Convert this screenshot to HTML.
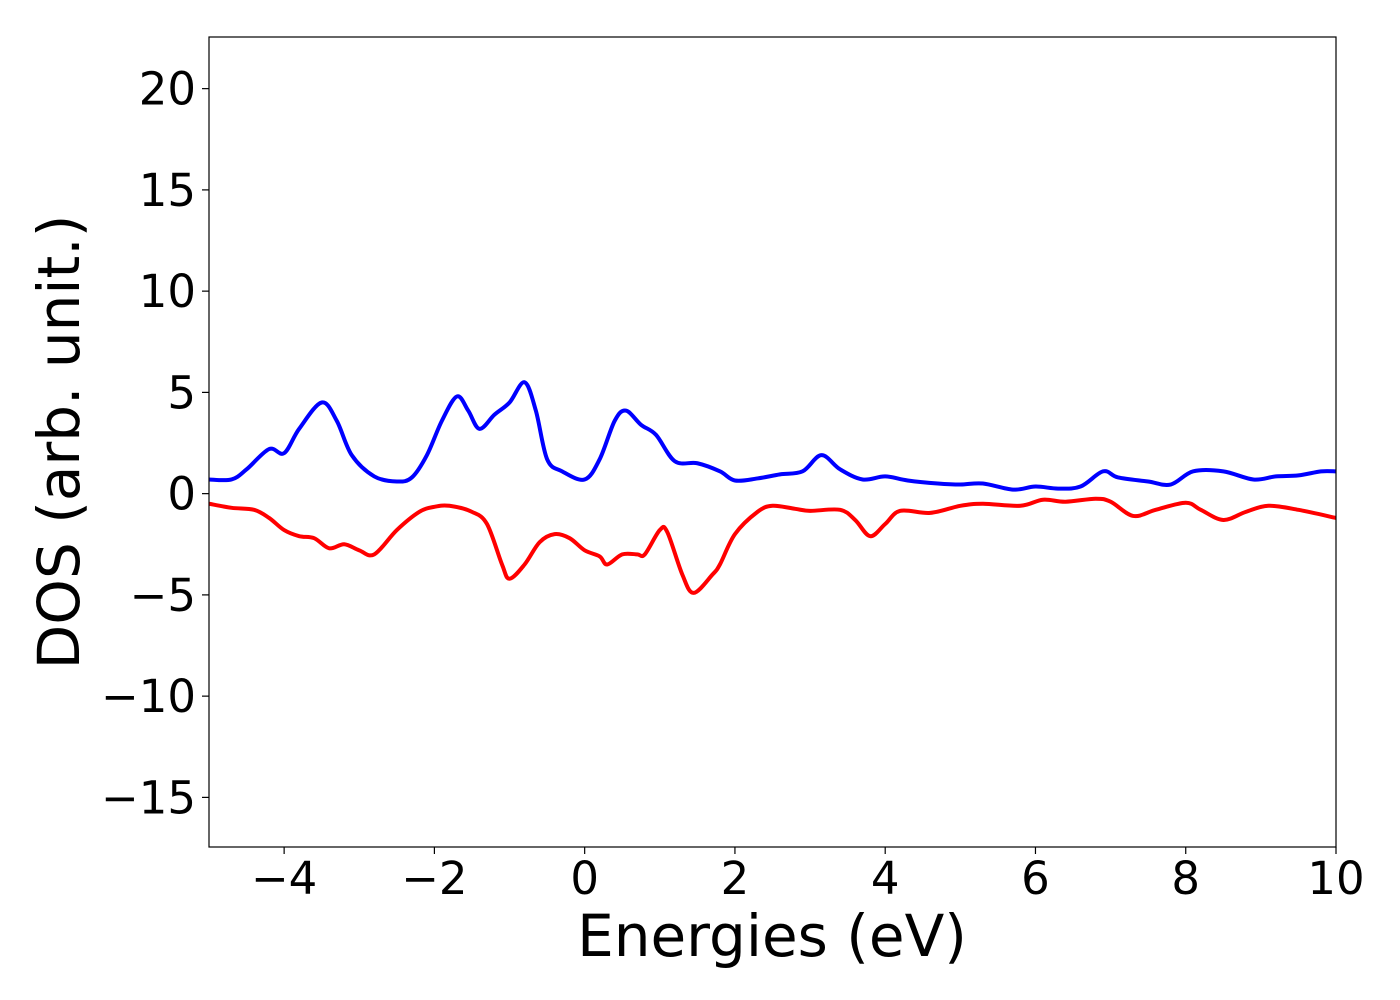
<!DOCTYPE html>
<html><head><meta charset="utf-8"><style>
html,body{margin:0;padding:0;background:#fff;}
svg{display:block;font-family:"DejaVu Sans","Liberation Sans",sans-serif;}
</style></head><body>
<svg id="chart" width="1400" height="1000">
<rect x="0" y="0" width="1400" height="1000" fill="#fff"/>
<g id="ticks"></g>
<g id="series"></g>
<rect x="209" y="37" width="1127" height="810" fill="none" stroke="#000" stroke-width="1.2"/>
<text x="772" y="956" font-size="58" text-anchor="middle">Energies (eV)</text>
<text transform="translate(79,442) rotate(-90)" font-size="58" text-anchor="middle">DOS (arb. unit.)</text>
</svg>
<script>
const xTicks=[-4,-2,0,2,4,6,8,10];
const yTicks=[-15,-10,-5,0,5,10,15,20];
const upE=[-5,-4.7,-4.5,-4.2,-4.0,-3.8,-3.5,-3.3,-3.1,-2.8,-2.5,-2.3,-2.1,-1.9,-1.7,-1.55,-1.4,-1.2,-1.0,-0.8,-0.65,-0.5,-0.3,0,0.2,0.4,0.55,0.75,0.95,1.2,1.5,1.8,2.0,2.3,2.6,2.9,3.15,3.4,3.7,4.0,4.3,4.7,5.0,5.3,5.7,6.0,6.3,6.6,6.9,7.1,7.5,7.8,8.1,8.5,8.9,9.2,9.5,9.8,10];
const upDos=[0.7,0.7,1.2,2.2,2.0,3.2,4.5,3.6,1.9,0.85,0.6,0.8,1.9,3.6,4.8,4.1,3.2,3.9,4.5,5.5,4.1,1.7,1.1,0.7,1.7,3.6,4.1,3.4,2.9,1.6,1.5,1.1,0.65,0.75,0.95,1.1,1.9,1.2,0.7,0.85,0.65,0.5,0.45,0.5,0.2,0.35,0.25,0.35,1.1,0.8,0.6,0.45,1.1,1.1,0.7,0.85,0.9,1.1,1.1];
const dnE=[-5,-4.7,-4.4,-4.2,-4.0,-3.8,-3.6,-3.4,-3.2,-3.0,-2.8,-2.5,-2.2,-2.0,-1.8,-1.5,-1.3,-1.1,-1.0,-0.8,-0.6,-0.4,-0.2,0.0,0.2,0.3,0.5,0.7,0.8,1.0,1.1,1.3,1.45,1.7,1.8,2.0,2.3,2.5,2.8,3.0,3.4,3.6,3.8,4.0,4.2,4.6,5.0,5.3,5.8,6.1,6.4,6.8,7.0,7.3,7.6,8.0,8.2,8.5,8.8,9.1,9.5,10];
const dnDos=[-0.5,-0.7,-0.8,-1.2,-1.8,-2.1,-2.2,-2.7,-2.5,-2.8,-3.0,-1.8,-0.9,-0.65,-0.6,-0.9,-1.5,-3.5,-4.2,-3.5,-2.4,-2.0,-2.2,-2.8,-3.1,-3.5,-3.0,-3.0,-3.0,-1.8,-1.9,-4.0,-4.9,-4.0,-3.5,-2.0,-0.9,-0.6,-0.75,-0.85,-0.8,-1.3,-2.1,-1.5,-0.85,-0.95,-0.6,-0.5,-0.6,-0.3,-0.4,-0.25,-0.4,-1.1,-0.8,-0.45,-0.8,-1.3,-0.9,-0.6,-0.8,-1.2];
const X0=209,X1=1336,Y0=847,Y1=37,xmin=-5,xmax=10,ymin=-17.45,ymax=22.55;
function sx(v){return X0+(v-xmin)/(xmax-xmin)*(X1-X0);}
function sy(v){return Y0-(v-ymin)/(ymax-ymin)*(Y0-Y1);}
const NS="http://www.w3.org/2000/svg";
const tg=document.getElementById('ticks');
function fmt(v){return v<0?'\u2212'+(-v):''+v;}
xTicks.forEach(v=>{
  const l=document.createElementNS(NS,'line');
  l.setAttribute('x1',sx(v));l.setAttribute('x2',sx(v));l.setAttribute('y1',Y0);l.setAttribute('y2',Y0+7);l.setAttribute('stroke','#000');l.setAttribute('stroke-width','1.2');
  
  
  tg.appendChild(l);
  const t=document.createElementNS(NS,'text');
  t.setAttribute('x',sx(v));t.setAttribute('y',Y0+47);t.setAttribute('font-size','45');t.setAttribute('text-anchor','middle');
  t.textContent=fmt(v);
  
  
  tg.appendChild(t);
});
yTicks.forEach(v=>{
  const l=document.createElementNS(NS,'line');
  l.setAttribute('x1',X0-7);l.setAttribute('x2',X0);l.setAttribute('y1',sy(v));l.setAttribute('y2',sy(v));l.setAttribute('stroke','#000');l.setAttribute('stroke-width','1.2');
  
  
  tg.appendChild(l);
  const t=document.createElementNS(NS,'text');
  t.setAttribute('x',X0-13);t.setAttribute('y',sy(v)+16);t.setAttribute('font-size','45');t.setAttribute('text-anchor','end');
  t.textContent=fmt(v);
  
  
  tg.appendChild(t);
});
function pathFor(xs,ys){
  const p=xs.map((x,i)=>[sx(x),sy(ys[i])]);
  let d='M'+p[0][0]+','+p[0][1];
  for(let i=0;i<p.length-1;i++){
    const a=p[Math.max(0,i-1)],b=p[i],c=p[i+1],e=p[Math.min(p.length-1,i+2)];
    const c1=[b[0]+(c[0]-a[0])/6,b[1]+(c[1]-a[1])/6],c2=[c[0]-(e[0]-b[0])/6,c[1]-(e[1]-b[1])/6];
    d+=' C'+c1[0]+','+c1[1]+' '+c2[0]+','+c2[1]+' '+c[0]+','+c[1];
  }
  return d;
}
const sg=document.getElementById('series');
const up=document.createElementNS(NS,'path');
up.setAttribute('d',pathFor(upE,upDos));up.setAttribute('fill','none');up.setAttribute('stroke','#0000ff');up.setAttribute('stroke-width','4');


sg.appendChild(up);
const dn=document.createElementNS(NS,'path');
dn.setAttribute('d',pathFor(dnE,dnDos));dn.setAttribute('fill','none');dn.setAttribute('stroke','#ff0000');dn.setAttribute('stroke-width','4');


sg.appendChild(dn);
</script>
</body></html>
